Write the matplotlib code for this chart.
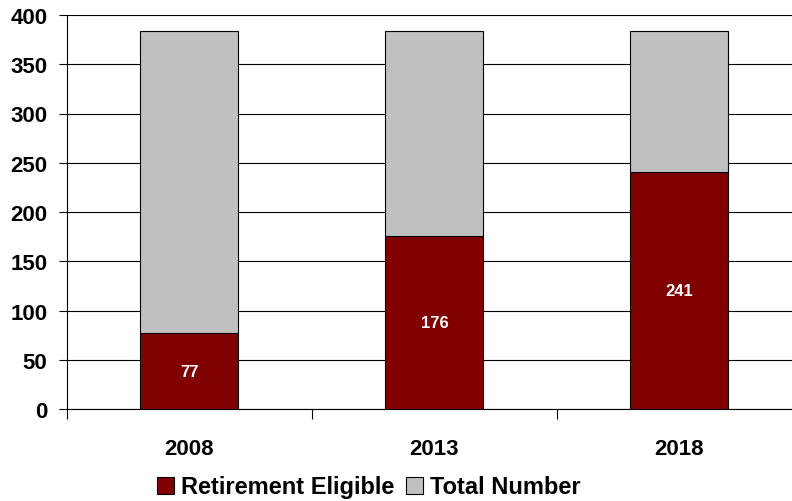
import matplotlib.pyplot as plt
import numpy as np

plt.rcParams['font.family'] = ['Liberation Sans', 'DejaVu Sans']

years = ['2008', '2013', '2018']
eligible = [77, 176, 241]
total = [384, 384, 384]
rest = [t - e for t, e in zip(total, eligible)]

fig = plt.figure(figsize=(7.92, 5.02), dpi=100)
ax = fig.add_axes([67 / 792, 92 / 502, 735 / 792, 394 / 502])

x = np.arange(len(years))
ax.bar(x, eligible, 0.4, color='#800000', edgecolor='black', linewidth=0.8,
       label='Retirement Eligible', zorder=3)
ax.bar(x, rest, 0.4, bottom=eligible, color='#C0C0C0', edgecolor='black', linewidth=0.8,
       label='Total Number', zorder=3)

for xi, e in zip(x, eligible):
    ax.text(xi, e / 2, str(e), ha='center', va='center', color='white',
            fontsize=12, fontweight='bold', zorder=4)

ax.set_xlim(-0.5, 2.5)
ax.set_ylim(0, 400)
ax.set_yticks(range(0, 401, 50))
ax.yaxis.grid(True, color='black', linewidth=0.8, zorder=0)
ax.set_xticks(x)
ax.set_xticklabels(years, fontsize=16, fontweight='bold')
ax.set_xticks([-0.5, 0.5, 1.5, 2.5], minor=True)
ax.tick_params(axis='x', which='major', length=0, pad=21)
ax.tick_params(axis='x', which='minor', length=7, width=0.8)
ax.tick_params(axis='y', length=6, width=0.8, labelsize=16, pad=8)
for lbl in ax.get_yticklabels():
    lbl.set_fontweight('bold')

ax.spines['top'].set_visible(False)
ax.spines['right'].set_visible(False)
ax.spines['left'].set_linewidth(0.8)
ax.spines['bottom'].set_linewidth(0.8)

fig.legend(loc='center', bbox_to_anchor=(369 / 792, 1 - 488 / 502), ncol=2,
           frameon=False, prop={'size': 17, 'weight': 'bold'},
           handlelength=0.7, handleheight=0.7, handletextpad=0.3, columnspacing=0.5)

fig.savefig('out.png', dpi=100)
